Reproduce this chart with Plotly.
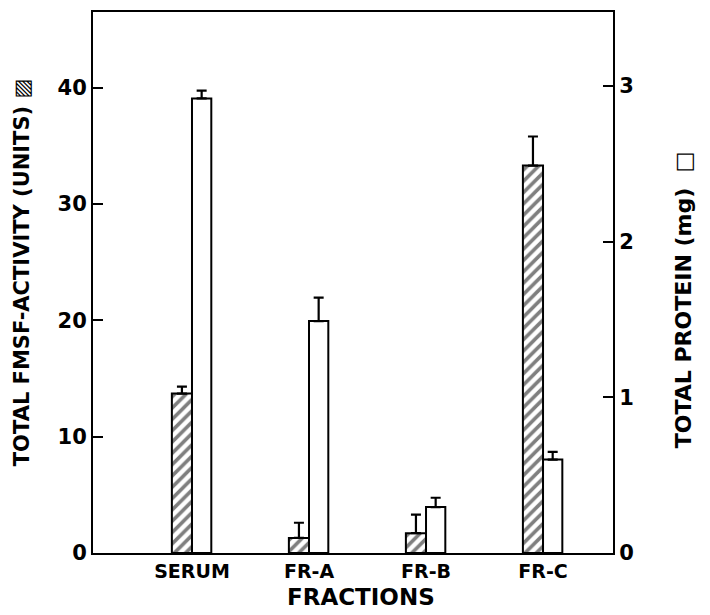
import plotly.graph_objects as go

categories = ["SERUM", "FR-A", "FR-B", "FR-C"]
fmsf_activity = [13.7, 1.3, 1.7, 33.3]
fmsf_error = [0.6, 1.3, 1.6, 2.5]
protein_mg = [2.92, 1.49, 0.295, 0.60]
protein_error = [0.05, 0.15, 0.06, 0.05]
left_ticks = [0, 10, 20, 30, 40]
right_ticks = [0, 1, 2, 3]

font_family = "DejaVu Sans, Verdana, sans-serif"
BOLD = "bold"

fig = go.Figure()
fig.add_trace(go.Bar(
    x=categories, y=fmsf_activity, yaxis="y",
    offset=-0.172, width=0.172,
    marker=dict(color="white", line=dict(color="black", width=2),
                pattern=dict(shape="/", fgcolor="black", bgcolor="white", size=8, solidity=0.45)),
    error_y=dict(type="data", array=fmsf_error, arrayminus=[0]*4, symmetric=False,
                 color="black", thickness=2.2, width=5),
    showlegend=False,
))
fig.add_trace(go.Bar(
    x=categories, y=protein_mg, yaxis="y2",
    offset=0.0, width=0.165,
    marker=dict(color="white", line=dict(color="black", width=2)),
    error_y=dict(type="data", array=protein_error, arrayminus=[0]*4, symmetric=False,
                 color="black", thickness=2.2, width=5),
    showlegend=False,
))

fig.update_layout(
    width=710, height=615,
    margin=dict(l=85, r=105, t=4, b=70, autoexpand=False),
    paper_bgcolor="white", plot_bgcolor="white",
    font=dict(family=font_family, color="black"),
    barmode="overlay",
    xaxis=dict(
        type="category", range=[-0.846, 3.598], automargin=False,
        showline=True, linecolor="black", linewidth=2, mirror=True,
        ticks="", showgrid=False, zeroline=False,
        tickfont=dict(size=19, weight=BOLD),
    ),
    yaxis=dict(
        range=[0, 46.5], tickvals=left_ticks, automargin=False,
        showline=True, linecolor="black", linewidth=2,
        ticks="inside", ticklen=10, tickwidth=2, tickcolor="black",
        showgrid=False, zeroline=False,
        tickfont=dict(size=21, weight=BOLD),
    ),
    yaxis2=dict(
        range=[0, 3.475], tickvals=right_ticks, overlaying="y", side="right", automargin=False,
        showline=True, linecolor="black", linewidth=2,
        ticks="inside", ticklen=10, tickwidth=2, tickcolor="black",
        showgrid=False, zeroline=False,
        tickfont=dict(size=21, weight=BOLD),
    ),
    annotations=[
        dict(text="FRACTIONS", xref="paper", yref="paper",
             x=0.515, y=-0.0813, xanchor="center", yanchor="middle",
             showarrow=False, font=dict(size=23, weight=BOLD)),
        dict(text="TOTAL FMSF-ACTIVITY (UNITS) ▨", xref="paper", yref="paper",
             x=-0.1365, y=0.519, xanchor="center", yanchor="middle", textangle=-90,
             showarrow=False, font=dict(size=21, weight=BOLD)),
        dict(text="TOTAL PROTEIN (mg)  □", xref="paper", yref="paper",
             x=1.1346, y=0.469, xanchor="center", yanchor="middle", textangle=-90,
             showarrow=False, font=dict(size=22, weight=BOLD)),
    ],
)

fig.write_html("out.html")
